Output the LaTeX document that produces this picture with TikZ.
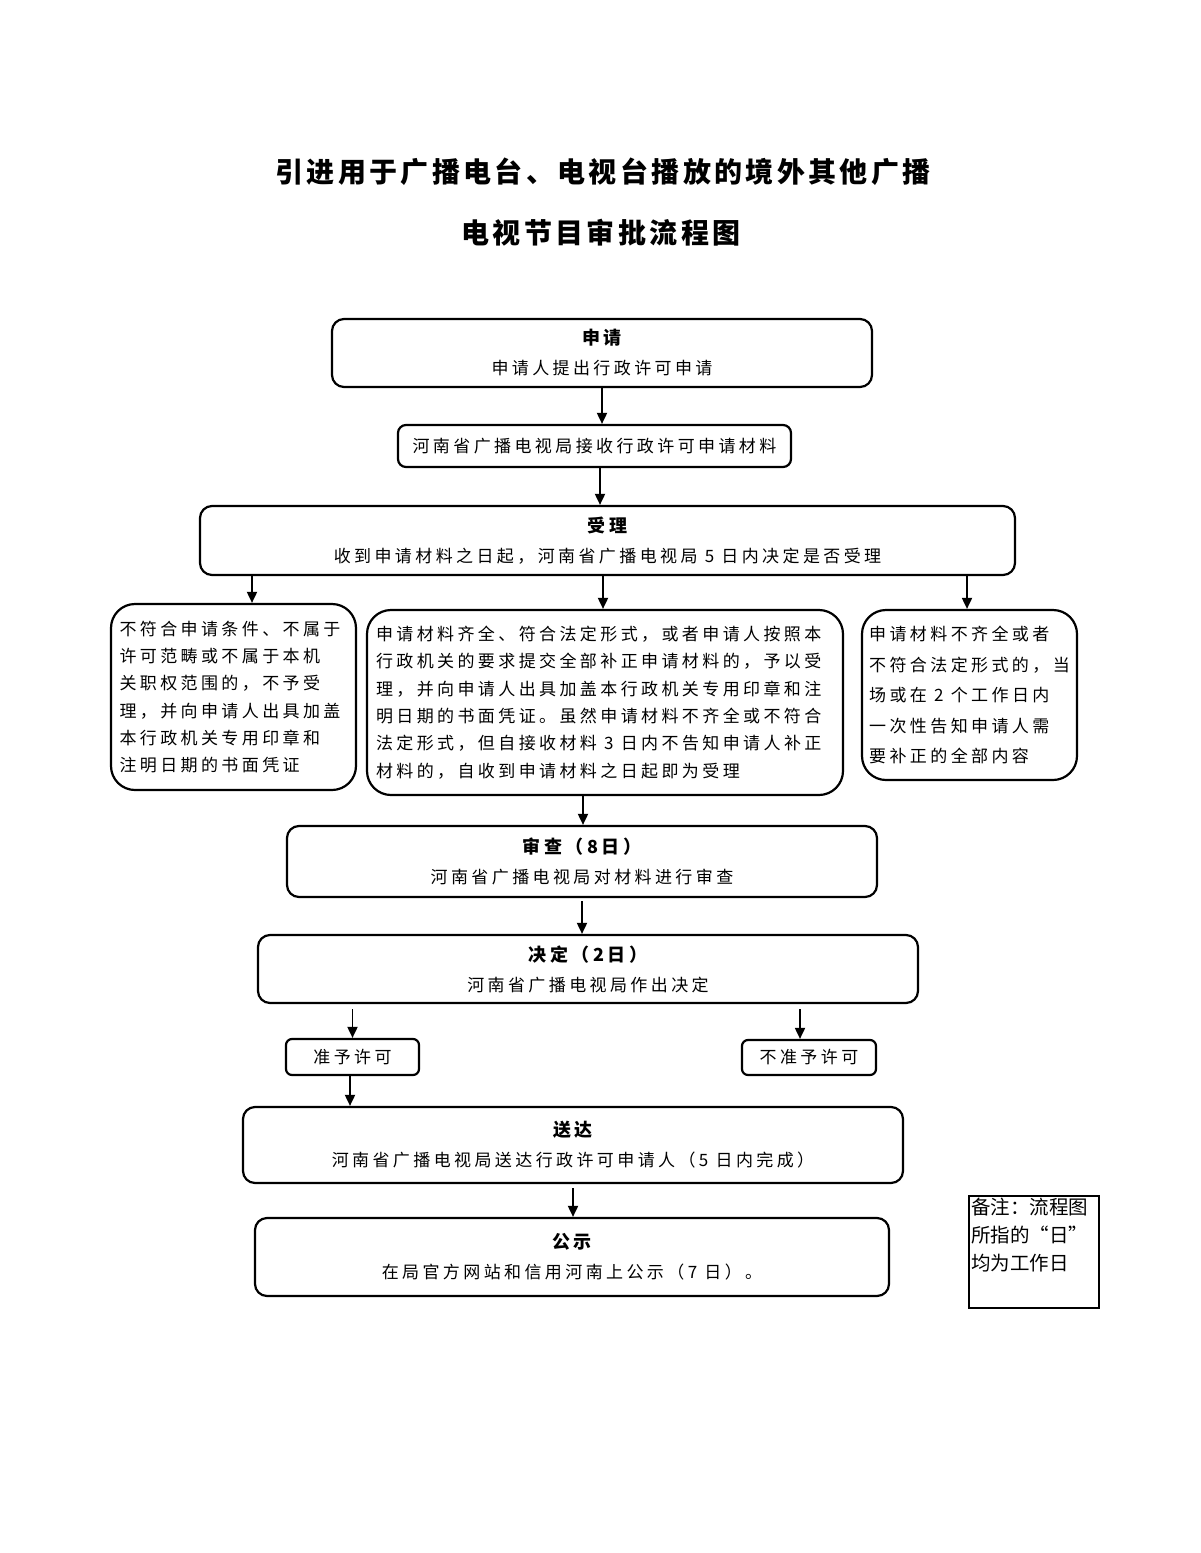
\documentclass[tikz,border=0pt]{standalone}
\usepackage{fontspec}
\setmainfont{Noto Sans CJK SC}
\newfontfamily\cjkbody{Noto Sans CJK SC}[LetterSpace=20]
\newfontfamily\cjktitle{Noto Sans CJK SC}[LetterSpace=12]
\newfontfamily\cjknote{Noto Sans CJK SC}
\usetikzlibrary{arrows.meta}
\tikzset{
  box/.style={draw, line width=2.2pt, rounded corners=12pt, align=center, inner sep=0pt,
    font={\cjkbody\fontsize{17pt}{30pt}\selectfont}},
  sidebox/.style={draw, line width=2.2pt, rounded corners=24pt, align=left, inner sep=0pt},
  smallbox/.style={draw, line width=2.2pt, rounded corners=6pt, align=center, inner sep=0pt,
    font={\cjkbody\fontsize{17pt}{20pt}\selectfont}},
  arr/.style={line width=1.8pt, -{Triangle[length=11pt,width=10pt]}},
  titletext/.style={font={\cjktitle\bfseries\fontsize{28pt}{34pt}\selectfont}},
}
\newcommand{\hd}[1]{{\bfseries\fontsize{18pt}{30pt}\selectfont #1}}
\begin{document}
\begin{tikzpicture}[x=1pt,y=-1pt]
\useasboundingbox (0,0) rectangle (1200,1553);

\node[titletext] (t1) at (603,172) {引进用于广播电台、电视台播放的境外其他广播};
\node[titletext] (t2) at (601,233) {电视节目审批流程图};

\node[box, minimum width=540pt, minimum height=68pt] (b1) at (602,353)
  {\hd{申请}\\申请人提出行政许可申请};
\node[box, rounded corners=8pt, minimum width=393pt, minimum height=42pt] (b2) at (594.5,446)
  {河南省广播电视局接收行政许可申请材料};
\node[box, minimum width=815pt, minimum height=69pt] (b3) at (607.5,540.5)
  {\hd{受理}\\收到申请材料之日起，河南省广播电视局 5 日内决定是否受理};

\node[sidebox, minimum width=245pt, minimum height=186pt,
  font={\cjkbody\fontsize{17pt}{27.2pt}\selectfont}] (l) at (233.5,697)
  {\makebox[228pt][l]{不符合申请条件、不属于}\\
   许可范畴或不属于本机\\
   关职权范围的，不予受\\
   理，并向申请人出具加盖\\
   本行政机关专用印章和\\
   注明日期的书面凭证};
\node[sidebox, minimum width=476pt, minimum height=185pt,
  font={\cjkbody\fontsize{17pt}{27.4pt}\selectfont}] (m) at (605,702.5)
  {\makebox[458pt][l]{申请材料齐全、符合法定形式，或者申请人按照本}\\
   行政机关的要求提交全部补正申请材料的，予以受\\
   理，并向申请人出具加盖本行政机关专用印章和注\\
   明日期的书面凭证。虽然申请材料不齐全或不符合\\
   法定形式，但自接收材料 3 日内不告知申请人补正\\
   材料的，自收到申请材料之日起即为受理};
\node[sidebox, minimum width=215pt, minimum height=170pt,
  font={\cjkbody\fontsize{17pt}{30.5pt}\selectfont}] (r) at (969.5,695)
  {\makebox[196pt][l]{申请材料不齐全或者}\\
   不符合法定形式的，当\\
   场或在 2 个工作日内\\
   一次性告知申请人需\\
   要补正的全部内容};

\node[box, minimum width=590pt, minimum height=71pt] (b7) at (582,861.5)
  {\hd{审查（8日）}\\河南省广播电视局对材料进行审查};
\node[box, minimum width=660pt, minimum height=68pt] (b8) at (588,969)
  {\hd{决定（2日）}\\河南省广播电视局作出决定};

\node[smallbox, minimum width=133pt, minimum height=36pt] (y) at (352.5,1057) {准予许可};
\node[smallbox, minimum width=134pt, minimum height=35pt] (n) at (809,1057.5) {不准予许可};

\node[box, minimum width=660pt, minimum height=76pt] (b9) at (573,1145)
  {\hd{送达}\\河南省广播电视局送达行政许可申请人（5 日内完成）};
\node[box, minimum width=634pt, minimum height=78pt] (b10) at (572,1257)
  {\hd{公示}\\在局官方网站和信用河南上公示（7 日）。};

\node[draw, line width=2pt, inner sep=2pt, anchor=north west,
  font={\cjknote\fontsize{19.5pt}{28pt}\selectfont}] (note) at (968,1195)
  {\parbox[t][108pt][t]{126pt}{备注：流程图\\所指的“日”\\均为工作日}};

\draw[arr] (b1.south) -- (b1.south |- b2.north);
\draw[arr] ([xshift=5.5pt]b2.south) -- ([xshift=5.5pt]b2.south |- b3.north);
\draw[arr] ([xshift=18.5pt]l.north |- b3.south) -- ([xshift=18.5pt]l.north);
\draw[arr] ([xshift=-2pt]m.north |- b3.south) -- ([xshift=-2pt]m.north);
\draw[arr] ([xshift=-2.5pt]r.north |- b3.south) -- ([xshift=-2.5pt]r.north);
\draw[arr] ([xshift=-22pt]m.south) -- ([xshift=-22pt]m.south |- b7.north);
\draw[arr] ([yshift=-3pt]b7.south) -- (b7.south |- b8.north);
\draw[arr] ([yshift=-5pt]y.north |- b8.south) -- (y.north);
\draw[arr] ([xshift=-9pt,yshift=-5pt]n.north |- b8.south) -- ([xshift=-9pt]n.north);
\draw[arr] ([xshift=-2.5pt]y.south) -- ([xshift=-2.5pt]y.south |- b9.north);
\draw[arr] ([yshift=-4pt]b9.south) -- (b9.south |- b10.north);
\end{tikzpicture}
\end{document}
